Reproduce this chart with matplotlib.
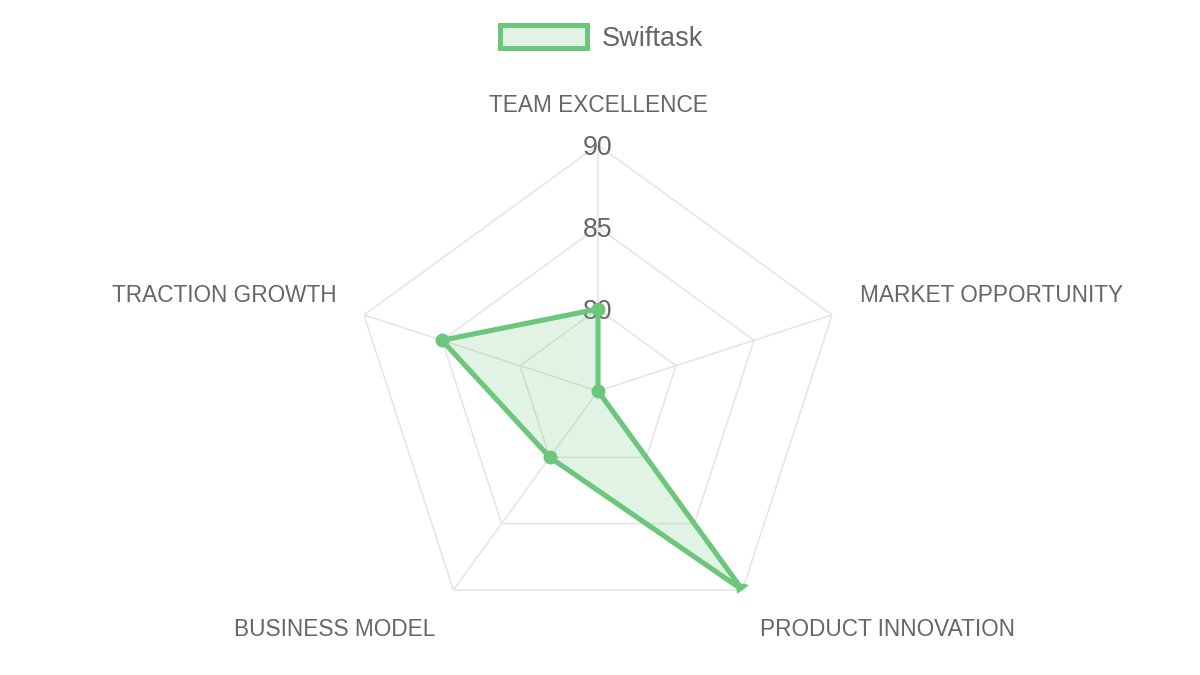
import numpy as np
import matplotlib
matplotlib.use("Agg")
import matplotlib.pyplot as plt
from matplotlib.patches import Rectangle

plt.rcParams['font.family'] = ['Liberation Sans', 'DejaVu Sans']

categories = ["TEAM EXCELLENCE", "MARKET OPPORTUNITY", "PRODUCT INNOVATION",
              "BUSINESS MODEL", "TRACTION GROWTH"]
values = [80, 75, 90, 80, 85]
series_name = "Swiftask"
r_min, r_max = 75, 90
tick_values = [80, 85, 90]

GREEN = "#6cc77c"
FILL = (108/255, 199/255, 124/255, 0.2)
GRID = "#e4e4e4"
TEXT = "#666666"

W, H = 1200, 675
fig = plt.figure(figsize=(W/100, H/100), dpi=100)

def fx(x): return x / W
def fy(y): return 1 - y / H

cx, cy, R = 598, 391, 246
ax = fig.add_axes([fx(cx - R), fy(cy + R), 2*R/W, 2*R/H], projection='polar')
ax.set_theta_offset(np.pi/2)
ax.set_theta_direction(-1)
ax.set_ylim(r_min, r_max)
ax.set_xticks([])
ax.set_yticks([])
ax.grid(False)
ax.spines['polar'].set_visible(False)
ax.patch.set_alpha(0)

n = len(categories)
angles = np.arange(n) * 2*np.pi / n
closed = np.append(angles, angles[0])

# polygon grid rings
for t in tick_values:
    ax.plot(closed, [t]*(n+1), color=GRID, lw=1.1, zorder=1)
# spokes
for a in angles:
    ax.plot([a, a], [r_min, r_max], color=GRID, lw=1.1, zorder=1)

# tick labels (nudged down a few px to match baseline)
for t in tick_values:
    ax.annotate(str(t), xy=(0, t), xytext=(0, -2.2), textcoords='offset points',
                ha='center', va='center', fontsize=19.2, color=TEXT, zorder=2)

vals = np.append(values, values[0])
ax.fill(closed, vals, color=FILL, zorder=3, lw=0)
ax.plot(closed, vals, color=GREEN, lw=3.7, zorder=4, solid_joinstyle='miter')
ax.plot(angles, values, 'o', color=GREEN, ms=9, zorder=5)

# point labels
label_pos = [
    (598, 106, 'center'),
    (860, 296, 'left'),
    (760, 630, 'left'),
    (435, 630, 'right'),
    (337, 296, 'right'),
]
for lab, (x, y, ha) in zip(categories, label_pos):
    fig.text(fx(x), fy(y), lab, ha=ha, va='center', fontsize=16.3, color=TEXT)

# legend
fig.patches.append(Rectangle((fx(499.5), fy(47.5)), (586.5-499.5)/W, (47.5-24.5)/H,
                             transform=fig.transFigure, facecolor=FILL,
                             edgecolor=GREEN, lw=3.6, figure=fig))
fig.text(fx(602), fy(39), series_name, ha='left', va='center', fontsize=19.5, color=TEXT)

fig.savefig("out.png", dpi=100, facecolor='white')
